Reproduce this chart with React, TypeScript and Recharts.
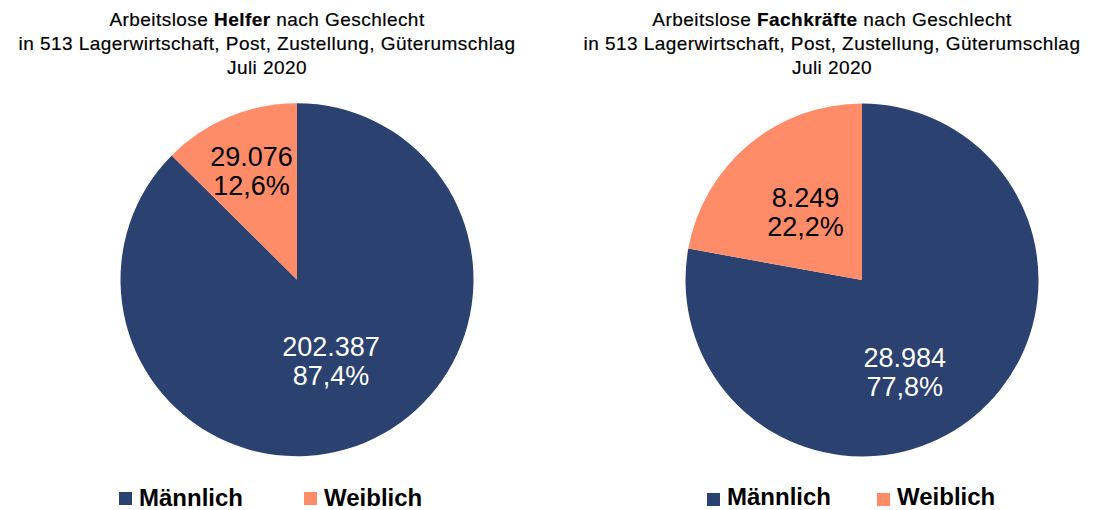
import { PieChart, Pie, Cell } from 'recharts';

const categories = ['Männlich', 'Weiblich'];
const helferValues = [202387, 29076];
const fachkraefteValues = [28984, 8249];
const colors = ['#2B4170', '#FF8C69'];
const labelColors = ['#ffffff', '#000000'];

const helferTitle = ['Arbeitslose ', 'Helfer', ' nach Geschlecht'];
const fachkraefteTitle = ['Arbeitslose ', 'Fachkräfte', ' nach Geschlecht'];
const subtitle = 'in 513 Lagerwirtschaft, Post, Zustellung, Güterumschlag';
const period = 'Juli 2020';

const RADIAN = Math.PI / 180;
const font = '"Liberation Sans", Arial, sans-serif';

// where each slice label sits: fraction of the radius and a small angle shift
const helferLabelPos = [{ r: 0.5, shift: 0 }, { r: 0.67, shift: 0 }];
const fachLabelPos = [{ r: 0.576, shift: -15 }, { r: 0.5, shift: 0 }];

const fmtValue = (v: number) => String(v).replace(/\B(?=(\d{3})+(?!\d))/g, '.');
const fmtPct = (p: number) => (p * 100).toFixed(1).replace('.', ',') + '%';

const toData = (values: number[]) => categories.map((name, i) => ({ name, value: values[i] }));

function makeLabel(pos: { r: number; shift: number }[]) {
  return (props: any) => {
    const { cx, cy, midAngle, outerRadius, index, value, percent } = props;
    const p = pos[index];
    const a = (midAngle + p.shift) * RADIAN;
    const x = cx + outerRadius * p.r * Math.cos(-a);
    const y = cy + outerRadius * p.r * Math.sin(-a);
    return (
      <text
        x={x}
        y={y}
        textAnchor="middle"
        fill={labelColors[index]}
        fontSize={27}
        fontFamily={font}
      >
        <tspan x={x} dy={-5}>{fmtValue(value)}</tspan>
        <tspan x={x} dy={29}>{fmtPct(percent)}</tspan>
      </text>
    );
  };
}

function Title({ parts, center }: { parts: string[]; center: number }) {
  const w = 540;
  return (
    <div
      style={{
        position: 'absolute',
        left: center - w / 2,
        top: 8,
        width: w,
        textAlign: 'center',
        fontFamily: font,
        fontSize: 19,
        lineHeight: '24px',
        letterSpacing: 0.45,
        color: '#000',
        whiteSpace: 'nowrap',
        WebkitTextStroke: '0.2px #000',
      }}
    >
      <div>
        {parts[0]}
        <b>{parts[1]}</b>
        {parts[2]}
      </div>
      <div>{subtitle}</div>
      <div>{period}</div>
    </div>
  );
}

function LegendRow({ left, top, gap, squareShift }: { left: number; top: number; gap: number; squareShift: number }) {
  return (
    <div
      style={{
        position: 'absolute',
        left,
        top,
        display: 'flex',
        alignItems: 'center',
        gap,
        fontFamily: font,
        fontSize: 24,
        fontWeight: 'bold',
        lineHeight: '18px',
        whiteSpace: 'nowrap',
      }}
    >
      {categories.map((c, i) => (
        <span key={c} style={{ display: 'flex', alignItems: 'center' }}>
          <span
            style={{
              display: 'inline-block',
              width: 13,
              height: 13,
              background: colors[i],
              marginRight: 7,
              position: 'relative',
              top: squareShift,
            }}
          />
          {c}
        </span>
      ))}
    </div>
  );
}

export default function App() {
  return (
    <div style={{ position: 'absolute', left: 0, top: 0, width: 1094, height: 510, background: '#fff', overflow: 'hidden' }}>
      <PieChart width={1094} height={510} margin={{ top: 0, right: 0, bottom: 0, left: 0 }}>
        <Pie
          data={toData(helferValues)}
          dataKey="value"
          nameKey="name"
          cx={297}
          cy={279.7}
          outerRadius={176.5}
          startAngle={90}
          endAngle={-270}
          stroke="none"
          labelLine={false}
          label={makeLabel(helferLabelPos)}
          isAnimationActive={false}
        >
          {categories.map((c, i) => (
            <Cell key={c} fill={colors[i]} />
          ))}
        </Pie>
        <Pie
          data={toData(fachkraefteValues)}
          dataKey="value"
          nameKey="name"
          cx={862}
          cy={280}
          outerRadius={176.5}
          startAngle={90}
          endAngle={-270}
          stroke="none"
          labelLine={false}
          label={makeLabel(fachLabelPos)}
          isAnimationActive={false}
        >
          {categories.map((c, i) => (
            <Cell key={c} fill={colors[i]} />
          ))}
        </Pie>
      </PieChart>
      <Title parts={helferTitle} center={267} />
      <Title parts={fachkraefteTitle} center={832} />
      <LegendRow left={119} top={488.5} gap={61} squareShift={1} />
      <LegendRow left={707} top={488} gap={46} squareShift={2} />
    </div>
  );
}
